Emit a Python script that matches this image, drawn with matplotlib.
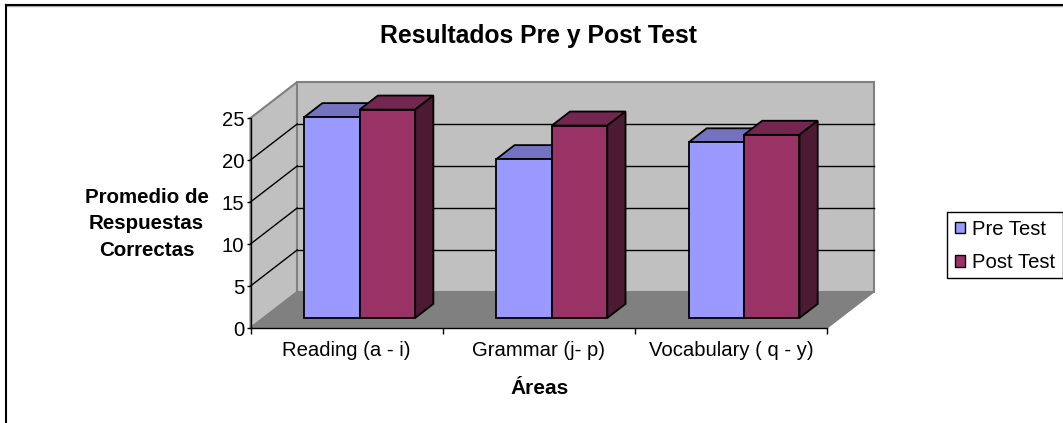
import matplotlib
matplotlib.use('Agg')
import matplotlib.pyplot as plt
from matplotlib.lines import Line2D
from matplotlib.patches import Polygon, Rectangle

plt.rcParams['font.family'] = ['Liberation Sans', 'DejaVu Sans']

categories = ['Reading (a - i)', 'Grammar (j- p)', 'Vocabulary ( q - y)']
pre_test = [23.9, 18.9, 20.9]
post_test = [24.8, 22.9, 21.8]
y_ticks = [0, 5, 10, 15, 20, 25]

W, H = 1063, 423
fig = plt.figure(figsize=(W / 100, H / 100), dpi=100)
fig.patch.set_facecolor('white')

# chart border, only top and left are inside the picture
fig.add_artist(Line2D([6.3 / W, 1], [1 - 5.8 / H, 1 - 5.8 / H], color='#b0b0b0', lw=1, zorder=-1))
fig.add_artist(Line2D([6.3 / W, 1], [1 - 4.7 / H, 1 - 4.7 / H], color='black', lw=1.5, zorder=-1))
fig.add_artist(Line2D([6.3 / W, 6.3 / W], [0, 1 - 4.7 / H], color='black', lw=1.5, zorder=-1))

# axes = front plane of the 3d box
left, right, top, bottom = 250.5, 827, 118, 328
ax = fig.add_axes([left / W, 1 - bottom / H, (right - left) / W, (bottom - top) / H])
ax.set_xlim(0, 3)
ax.set_ylim(0, 25)
ax.patch.set_visible(False)

DX = 46.7 / 192.2   # depth of the box in x units
DY = 36 / 8.4       # depth of the box in y units


def pt(x, y, d=0):
    return (x + d * DX, y + d * DY)


def poly(points, fc, ec, lw=1, z=1):
    ax.add_patch(Polygon(points, closed=True, fc=fc, ec=ec, lw=lw, zorder=z, clip_on=False))


# walls and floor
poly([pt(0, 0), pt(0, 0, 1), pt(0, 25, 1), pt(0, 25)], '#c0c0c0', '#808080', 1.5)
poly([pt(0, 0, 1), pt(3, 0, 1), pt(3, 25, 1), pt(0, 25, 1)], '#c0c0c0', '#808080', 1.5)
poly([pt(0, 0), pt(3, 0), pt(3, 0, 1), pt(0, 0, 1)], '#808080', '#808080', 1)

# gridlines
for v in y_ticks[1:-1]:
    ax.plot(*zip(pt(0, v), pt(0, v, 1)), color='black', lw=1, zorder=2, clip_on=False)
    ax.plot(*zip(pt(0, v, 1), pt(3, v, 1)), color='black', lw=1, zorder=2, clip_on=False)

# bars
bar_w = 55.5 / 192.2
d0 = 0.28
d1 = 0.28 + 0.39


def bar3d(x, v, front, side_top, side, z):
    poly([pt(x, 0, d0), pt(x + bar_w, 0, d0), pt(x + bar_w, v, d0), pt(x, v, d0)], front, 'black', 1.3, z + 1)
    poly([pt(x, v, d0), pt(x + bar_w, v, d0), pt(x + bar_w, v, d1), pt(x, v, d1)], side_top, 'black', 1.3, z)
    poly([pt(x + bar_w, 0, d0), pt(x + bar_w, v, d0), pt(x + bar_w, v, d1), pt(x + bar_w, 0, d1)], side, 'black', 1.3, z)


for i in range(len(categories)):
    x0 = i + 40.6 / 192.2
    bar3d(x0, pre_test[i], '#9999ff', '#7373bf', '#4d4d80', 3 + i * 4)
    bar3d(x0 + bar_w, post_test[i], '#993366', '#732650', '#4d1a33', 5 + i * 4)

# axes lines and ticks
for s in ['top', 'right']:
    ax.spines[s].set_visible(False)
for s in ['left', 'bottom']:
    ax.spines[s].set_color('black')
    ax.spines[s].set_linewidth(1)
    ax.spines[s].set_zorder(30)
ax.set_yticks(y_ticks)
ax.set_xticks([0, 1, 2, 3])
ax.set_xticklabels([])
ax.set_xticks([0.5, 1.5, 2.5], categories, minor=True)
ax.tick_params(axis='x', which='minor', length=0, labelsize=14.6, pad=9)
ax.tick_params(axis='x', which='major', length=4, width=1)
ax.tick_params(axis='y', length=3, width=1, labelsize=14.6, pad=1.5)

# texts
fig.text(538 / W, 1 - 36 / H, 'Resultados Pre y Post Test', ha='center', va='center',
         fontsize=17.8, fontweight='bold')
fig.text(540 / W, 1 - 388 / H, 'Áreas', ha='center', va='center', fontsize=15, fontweight='bold')
fig.text(146.5 / W, 1 - 223.5 / H, 'Promedio de\nRespuestas\nCorrectas', ha='center', va='center',
         fontsize=14.8, fontweight='bold', linespacing=1.5)

# legend
fig.add_artist(Rectangle((947 / W, 1 - 278 / H), 116 / W, 66 / H, transform=fig.transFigure,
                         fc='white', ec='black', lw=1, zorder=-1))
h1 = Rectangle((0, 0), 1, 1, fc='#9999ff', ec='black', lw=1)
h2 = Rectangle((0, 0), 1, 1, fc='#993366', ec='black', lw=1)
fig.legend([h1, h2], ['Pre Test', 'Post Test'], loc='upper left', bbox_to_anchor=(951 / W, 1 - 215.5 / H),
           frameon=False, fontsize=14.6, handlelength=0.5, handleheight=0.5, handletextpad=0.35,
           labelspacing=0.72, borderaxespad=0, borderpad=0.2)

fig.savefig('out.png', dpi=100)
